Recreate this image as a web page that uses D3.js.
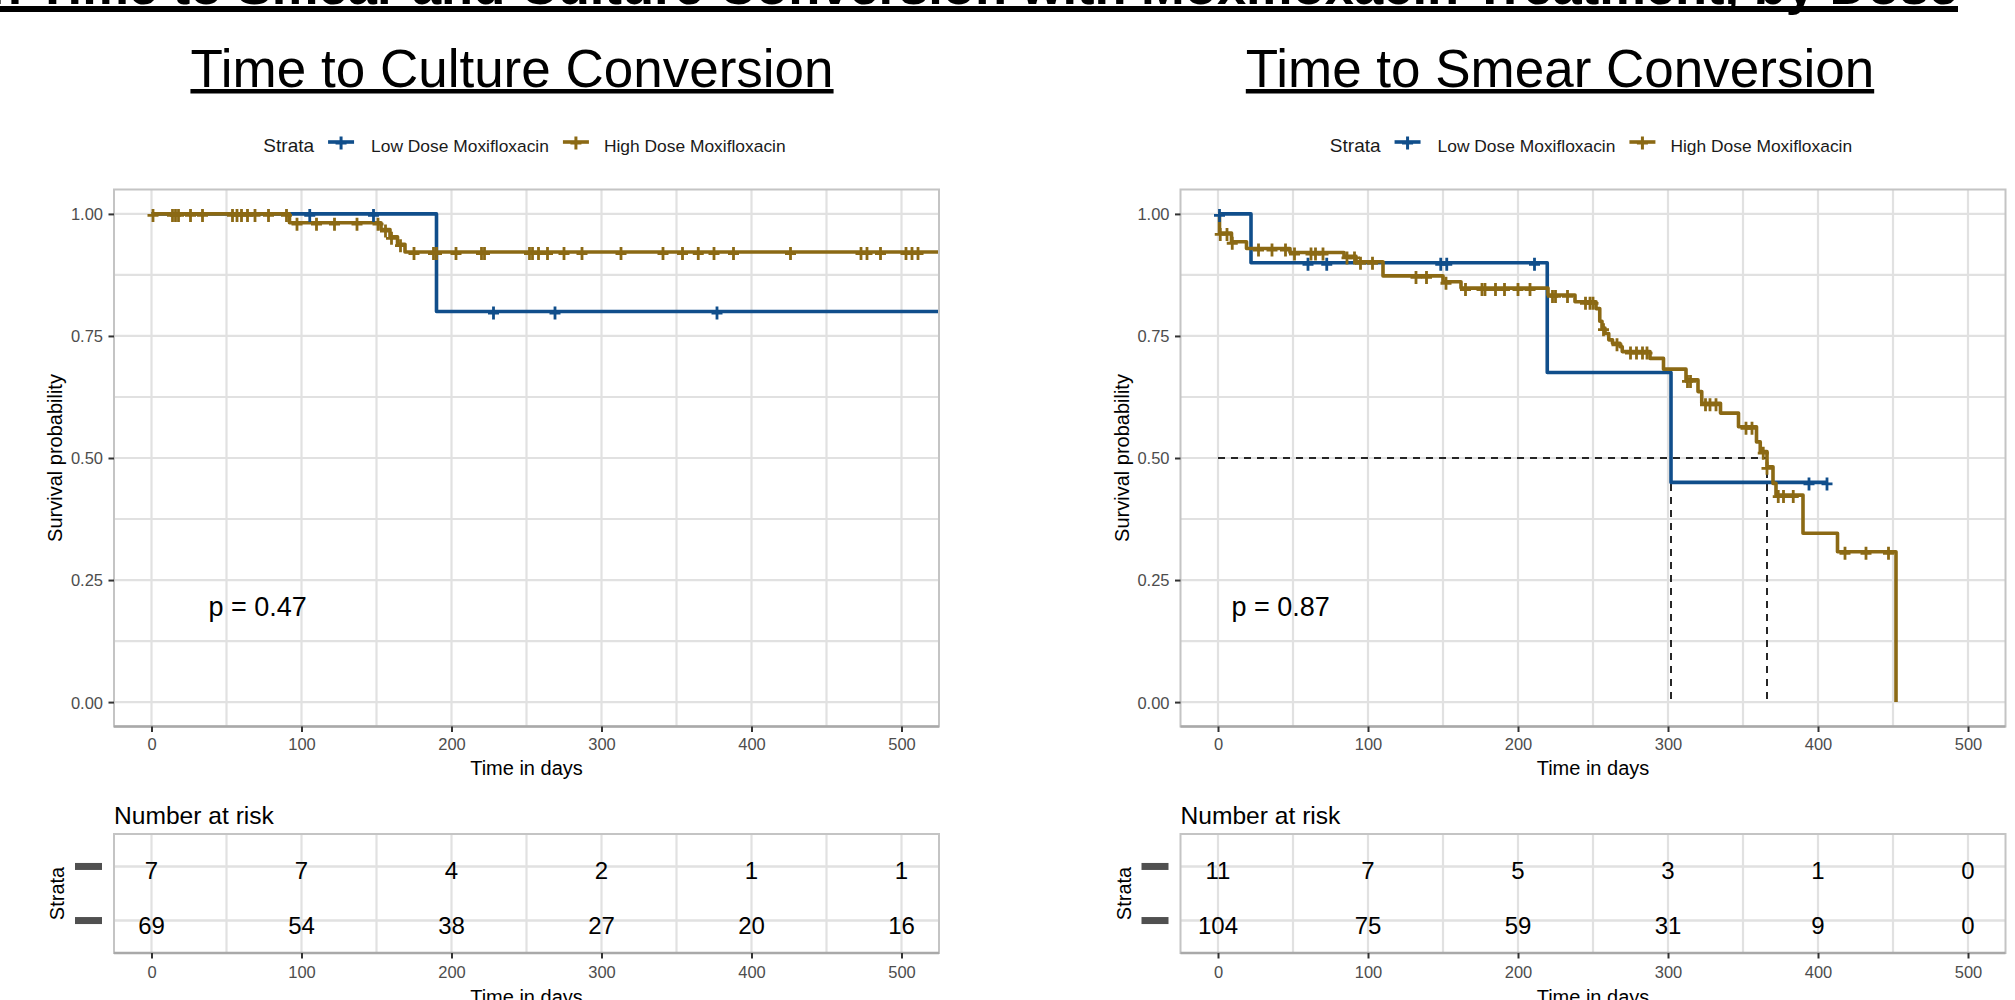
<!DOCTYPE html>
<html><head><meta charset="utf-8">
<script src="https://cdn.jsdelivr.net/npm/d3@7"></script>
<style>
html,body{margin:0;padding:0;background:#fff;}
svg{display:block;}
text{font-family:"Liberation Sans", Arial, Helvetica, sans-serif;}
</style></head>
<body><svg id="chart" width="2015" height="1000"></svg>
<script>
// ---------------- DATA ----------------
const mainTitle = "Median Time to Smear and Culture Conversion with Moxifloxacin Treatment, by Dose";
const panelTitles = ["Time to Culture Conversion", "Time to Smear Conversion"];
const legendTitle = "Strata";
const strataNames = ["Low Dose Moxifloxacin", "High Dose Moxifloxacin"];
const xTicks = [0, 100, 200, 300, 400, 500];
const yTicks = [0, 0.25, 0.5, 0.75, 1];
const yTickLabels = ["0.00", "0.25", "0.50", "0.75", "1.00"];
const xAxisTitle = "Time in days";
const yAxisTitle = "Survival probability";
const riskTitle = "Number at risk";
const riskAxisTitle = "Strata";
const pValues = ["p = 0.47", "p = 0.87"];

// Culture conversion: step points [time, survival] and censor times
const cultureLowSteps = [[0,1],[190,0.8],[525,0.8]];
const cultureLowCensor = [105.5, 148, 228, 269, 377];
const cultureHighSteps = [[0,1],[92,0.982],[153,0.968],[159,0.953],[164,0.938],[169,0.922],[525,0.922]];
const cultureHighCensor = [1,14,16,18,26,34,54,57,60,64,69,78,90,97,110,122,137,151,156,160,166,175,188,190,203,220,222,252,254,258,264,275,287,313,341,354,364.5,375,388,426,473,477,486,503,507,511];
const cultureRiskLow = [7, 7, 4, 2, 1, 1];
const cultureRiskHigh = [69, 54, 38, 27, 20, 16];
const cultureMedians = [];

// Smear conversion
const smearLowSteps = [[0,1],[22,0.9],[219.5,0.675],[302,0.45],[406,0.45]];
const smearLowCensor = [1, 60, 72.5, 148.5, 152.5, 211, 394, 406];
const smearHighSteps = [[0,1],[1,0.961],[9,0.943],[19,0.929],[48,0.921],[84,0.913],[92,0.902],[110,0.873],[150,0.861],[162,0.848],[220,0.834],[238,0.820],[252,0.806],[254.5,0.780],[256,0.766],[258,0.755],[260.5,0.742],[263,0.735],[268,0.728],[269.5,0.718],[288,0.704],[297,0.682],[312,0.660],[320,0.636],[322.5,0.612],[335,0.592],[347,0.564],[359,0.533],[361.5,0.513],[366,0.482],[370,0.448],[372,0.424],[390,0.346],[413,0.308],[452,0]];
const smearHighCensor = [1.5,6,9.5,27,36,45,51,62,65,70,86,91,95,103,132,139,152,165,176,178,185,191,200,208,223,225,233,245,248,250,257,266,275,279,283,286,313,315,325,328,332,352,356,363.5,366,373.5,377,383.5,418,432,447];
const smearRiskLow = [11, 7, 5, 3, 1, 0];
const smearRiskHigh = [104, 75, 59, 31, 9, 0];
const smearMedians = [302, 366];

// ---------------- DRAW ----------------
const colors = ["#104E8B", "#8B6914"];
const gridColor = "#e1e1e1";
const svg = d3.select("#chart");
svg.append("rect").attr("width", 2015).attr("height", 1000).attr("fill", "#fff");

// cropped overall title
svg.append("text").attr("x", 1958).attr("y", 4).attr("text-anchor", "end")
  .attr("font-weight", "bold").attr("font-size", 52.5).attr("fill", "#000").text(mainTitle);
svg.append("rect").attr("x", 0).attr("y", 6).attr("width", 1958).attr("height", 6).attr("fill", "#000");

function stepAt(steps, t) {
  let s = steps[0][1];
  for (const [tt, ss] of steps) { if (tt <= t) s = ss; else break; }
  return s;
}
const plusPath = "M-5.5,0H5.5M0,-6.5V6.5";

const panels = [
  { left: 114, right: 939, titleX: 512, title: panelTitles[0],
    series: [{steps: cultureLowSteps, censor: cultureLowCensor}, {steps: cultureHighSteps, censor: cultureHighCensor}],
    risk: [cultureRiskLow, cultureRiskHigh], medians: cultureMedians, p: pValues[0], pX: 38, pY: 0.2 },
  { left: 1180.5, right: 2005.5, titleX: 1560, title: panelTitles[1],
    series: [{steps: smearLowSteps, censor: smearLowCensor}, {steps: smearHighSteps, censor: smearHighCensor}],
    risk: [smearRiskLow, smearRiskHigh], medians: smearMedians, p: pValues[1], pX: 9, pY: 0.2 }
];

panels.forEach((P, pi) => {
  const g = svg.append("g");
  const x = d3.scaleLinear().domain([-25, 525]).range([P.left, P.right]);
  const y = d3.scaleLinear().domain([-0.05, 1.05]).range([726.5, 189.5]);
  const yb = y.range()[0], yt = y.range()[1];

  // panel title with underline
  const t = g.append("text").attr("x", P.titleX).attr("y", 87).attr("text-anchor", "middle")
    .attr("font-size", 53).attr("fill", "#000").text(P.title);
  const tw = t.node().getComputedTextLength();
  g.append("rect").attr("x", P.titleX - tw / 2).attr("y", 89).attr("width", tw).attr("height", 4.5).attr("fill", "#000");

  // legend
  const lg = g.append("g");
  let cx = 0;
  const lt = lg.append("text").attr("x", cx).attr("y", 151.5).attr("font-size", 19).attr("fill", "#1a1a1a").text(legendTitle);
  cx += lt.node().getComputedTextLength() + 14;
  strataNames.forEach((nm, i) => {
    lg.append("line").attr("x1", cx).attr("x2", cx + 26).attr("y1", 142).attr("y2", 142)
      .attr("stroke", colors[i]).attr("stroke-width", 3.6);
    lg.append("path").attr("d", plusPath).attr("transform", `translate(${cx + 13},143)`)
      .attr("stroke", colors[i]).attr("stroke-width", 3).attr("fill", "none");
    cx += 26 + (i === 0 ? 17 : 15);
    const tx = lg.append("text").attr("x", cx).attr("y", 151.5).attr("font-size", 17.4).attr("fill", "#1a1a1a").text(nm);
    cx += tx.node().getComputedTextLength() + 14;
  });
  cx -= 14;
  const lcenter = (P.left + P.right) / 2 - 2;
  lg.attr("transform", `translate(${lcenter - cx / 2},0)`);

  // grid
  g.append("g").selectAll("line").data(d3.range(0, 501, 50)).join("line")
    .attr("x1", d => x(d)).attr("x2", d => x(d)).attr("y1", yt).attr("y2", yb)
    .attr("stroke", gridColor).attr("stroke-width", 2.2);
  g.append("g").selectAll("line").data(d3.range(0, 1.0001, 0.125)).join("line")
    .attr("x1", P.left).attr("x2", P.right).attr("y1", d => y(d)).attr("y2", d => y(d))
    .attr("stroke", gridColor).attr("stroke-width", 2.2);

  // clip
  const clipId = "clip" + pi;
  svg.append("clipPath").attr("id", clipId).append("rect")
    .attr("x", P.left).attr("y", yt).attr("width", P.right - P.left).attr("height", yb - yt);
  const plot = g.append("g").attr("clip-path", `url(#${clipId})`);

  // median lines
  if (P.medians.length) {
    const dash = "7,6";
    plot.append("line").attr("x1", x(0)).attr("x2", x(d3.max(P.medians))).attr("y1", y(0.5)).attr("y2", y(0.5))
      .attr("stroke", "#262626").attr("stroke-width", 2).attr("stroke-dasharray", dash);
    P.medians.forEach(m => {
      plot.append("line").attr("x1", x(m)).attr("x2", x(m)).attr("y1", y(0.5)).attr("y2", y(0))
        .attr("stroke", "#262626").attr("stroke-width", 2).attr("stroke-dasharray", dash);
    });
  }

  // curves
  const line = d3.line().x(d => x(d[0])).y(d => y(d[1])).curve(d3.curveStepAfter);
  P.series.forEach((s, i) => {
    plot.append("path").attr("d", line(s.steps)).attr("fill", "none")
      .attr("stroke", colors[i]).attr("stroke-width", 3.6).attr("stroke-linejoin", "round");
  });
  P.series.forEach((s, i) => {
    plot.append("g").selectAll("path").data(s.censor).join("path")
      .attr("d", plusPath)
      .attr("transform", d => `translate(${x(d)},${y(stepAt(s.steps, d)) + 1.5})`)
      .attr("stroke", colors[i]).attr("stroke-width", 2.8).attr("fill", "none");
  });

  // p-value
  g.append("text").attr("x", x(P.pX)).attr("y", y(P.pY) + 12).attr("font-size", 27).attr("fill", "#000").text(P.p);

  // border
  g.append("rect").attr("x", P.left).attr("y", yt).attr("width", P.right - P.left).attr("height", yb - yt)
    .attr("fill", "none").attr("stroke", "#c4c4c4").attr("stroke-width", 2);
  g.append("line").attr("x1", P.left).attr("x2", P.right).attr("y1", yb).attr("y2", yb)
    .attr("stroke", "#a9a9a9").attr("stroke-width", 2.4);

  // x axis
  const xa = g.append("g").attr("transform", `translate(0,${yb})`)
    .call(d3.axisBottom(x).tickValues(xTicks).tickSize(5.5).tickSizeOuter(0));
  xa.select(".domain").remove();
  xa.selectAll(".tick line").attr("stroke", "#333").attr("stroke-width", 2);
  xa.selectAll(".tick text").attr("y", 23.5).attr("dy", null).attr("font-size", 16.5)
    .attr("fill", "#4d4d4d").attr("font-family", null);
  g.append("text").attr("x", (P.left + P.right) / 2).attr("y", 775).attr("text-anchor", "middle")
    .attr("font-size", 20).attr("fill", "#000").text(xAxisTitle);

  // y axis
  const ya = g.append("g").attr("transform", `translate(${P.left},0)`)
    .call(d3.axisLeft(y).tickValues(yTicks).tickFormat((d, i) => yTickLabels[i]).tickSize(5.5).tickSizeOuter(0));
  ya.select(".domain").remove();
  ya.selectAll(".tick line").attr("stroke", "#333").attr("stroke-width", 2);
  ya.selectAll(".tick text").attr("x", -11).attr("dy", "0.36em").attr("font-size", 16.5)
    .attr("fill", "#4d4d4d").attr("font-family", null);
  g.append("text").attr("transform", `translate(${P.left - 52},${(yt + yb) / 2}) rotate(-90)`)
    .attr("text-anchor", "middle").attr("font-size", 20).attr("fill", "#000").text(yAxisTitle);

  // ---- risk table ----
  const rTop = 834, rBot = 953;
  const ry = d3.scaleLinear().domain([0.4, 2.6]).range([rBot, rTop]);
  const rowPos = [2, 1]; // low on top, high below
  g.append("text").attr("x", P.left).attr("y", 824).attr("font-size", 24.6).attr("fill", "#000").text(riskTitle);
  g.append("g").selectAll("line").data(d3.range(0, 501, 50)).join("line")
    .attr("x1", d => x(d)).attr("x2", d => x(d)).attr("y1", rTop).attr("y2", rBot)
    .attr("stroke", gridColor).attr("stroke-width", 2.2);
  g.append("g").selectAll("line").data(rowPos).join("line")
    .attr("x1", P.left).attr("x2", P.right).attr("y1", d => ry(d)).attr("y2", d => ry(d))
    .attr("stroke", gridColor).attr("stroke-width", 2.6);
  g.append("rect").attr("x", P.left).attr("y", rTop).attr("width", P.right - P.left).attr("height", rBot - rTop)
    .attr("fill", "none").attr("stroke", "#c4c4c4").attr("stroke-width", 2);
  g.append("line").attr("x1", P.left).attr("x2", P.right).attr("y1", rBot).attr("y2", rBot)
    .attr("stroke", "#a9a9a9").attr("stroke-width", 2.4);
  P.risk.forEach((vals, si) => {
    g.append("g").selectAll("text").data(vals).join("text")
      .attr("x", (d, i) => x(xTicks[i])).attr("y", ry(rowPos[si]) + 13)
      .attr("text-anchor", "middle").attr("font-size", 24).attr("fill", "#000").text(d => d);
    g.append("rect").attr("x", P.left - 39).attr("y", ry(rowPos[si]) - 3.5).attr("width", 27).attr("height", 7)
      .attr("fill", "#505050");
  });
  const ra = g.append("g").attr("transform", `translate(0,${rBot})`)
    .call(d3.axisBottom(x).tickValues(xTicks).tickSize(5.5).tickSizeOuter(0));
  ra.select(".domain").remove();
  ra.selectAll(".tick line").attr("stroke", "#333").attr("stroke-width", 2);
  ra.selectAll(".tick text").attr("y", 25).attr("dy", null).attr("font-size", 16.5)
    .attr("fill", "#4d4d4d").attr("font-family", null);
  g.append("text").attr("x", (P.left + P.right) / 2).attr("y", 1004).attr("text-anchor", "middle")
    .attr("font-size", 20).attr("fill", "#000").text(xAxisTitle);
  g.append("text").attr("transform", `translate(${P.left - 50},${(rTop + rBot) / 2}) rotate(-90)`)
    .attr("text-anchor", "middle").attr("font-size", 20).attr("fill", "#000").text(riskAxisTitle);
});
</script></body></html>
